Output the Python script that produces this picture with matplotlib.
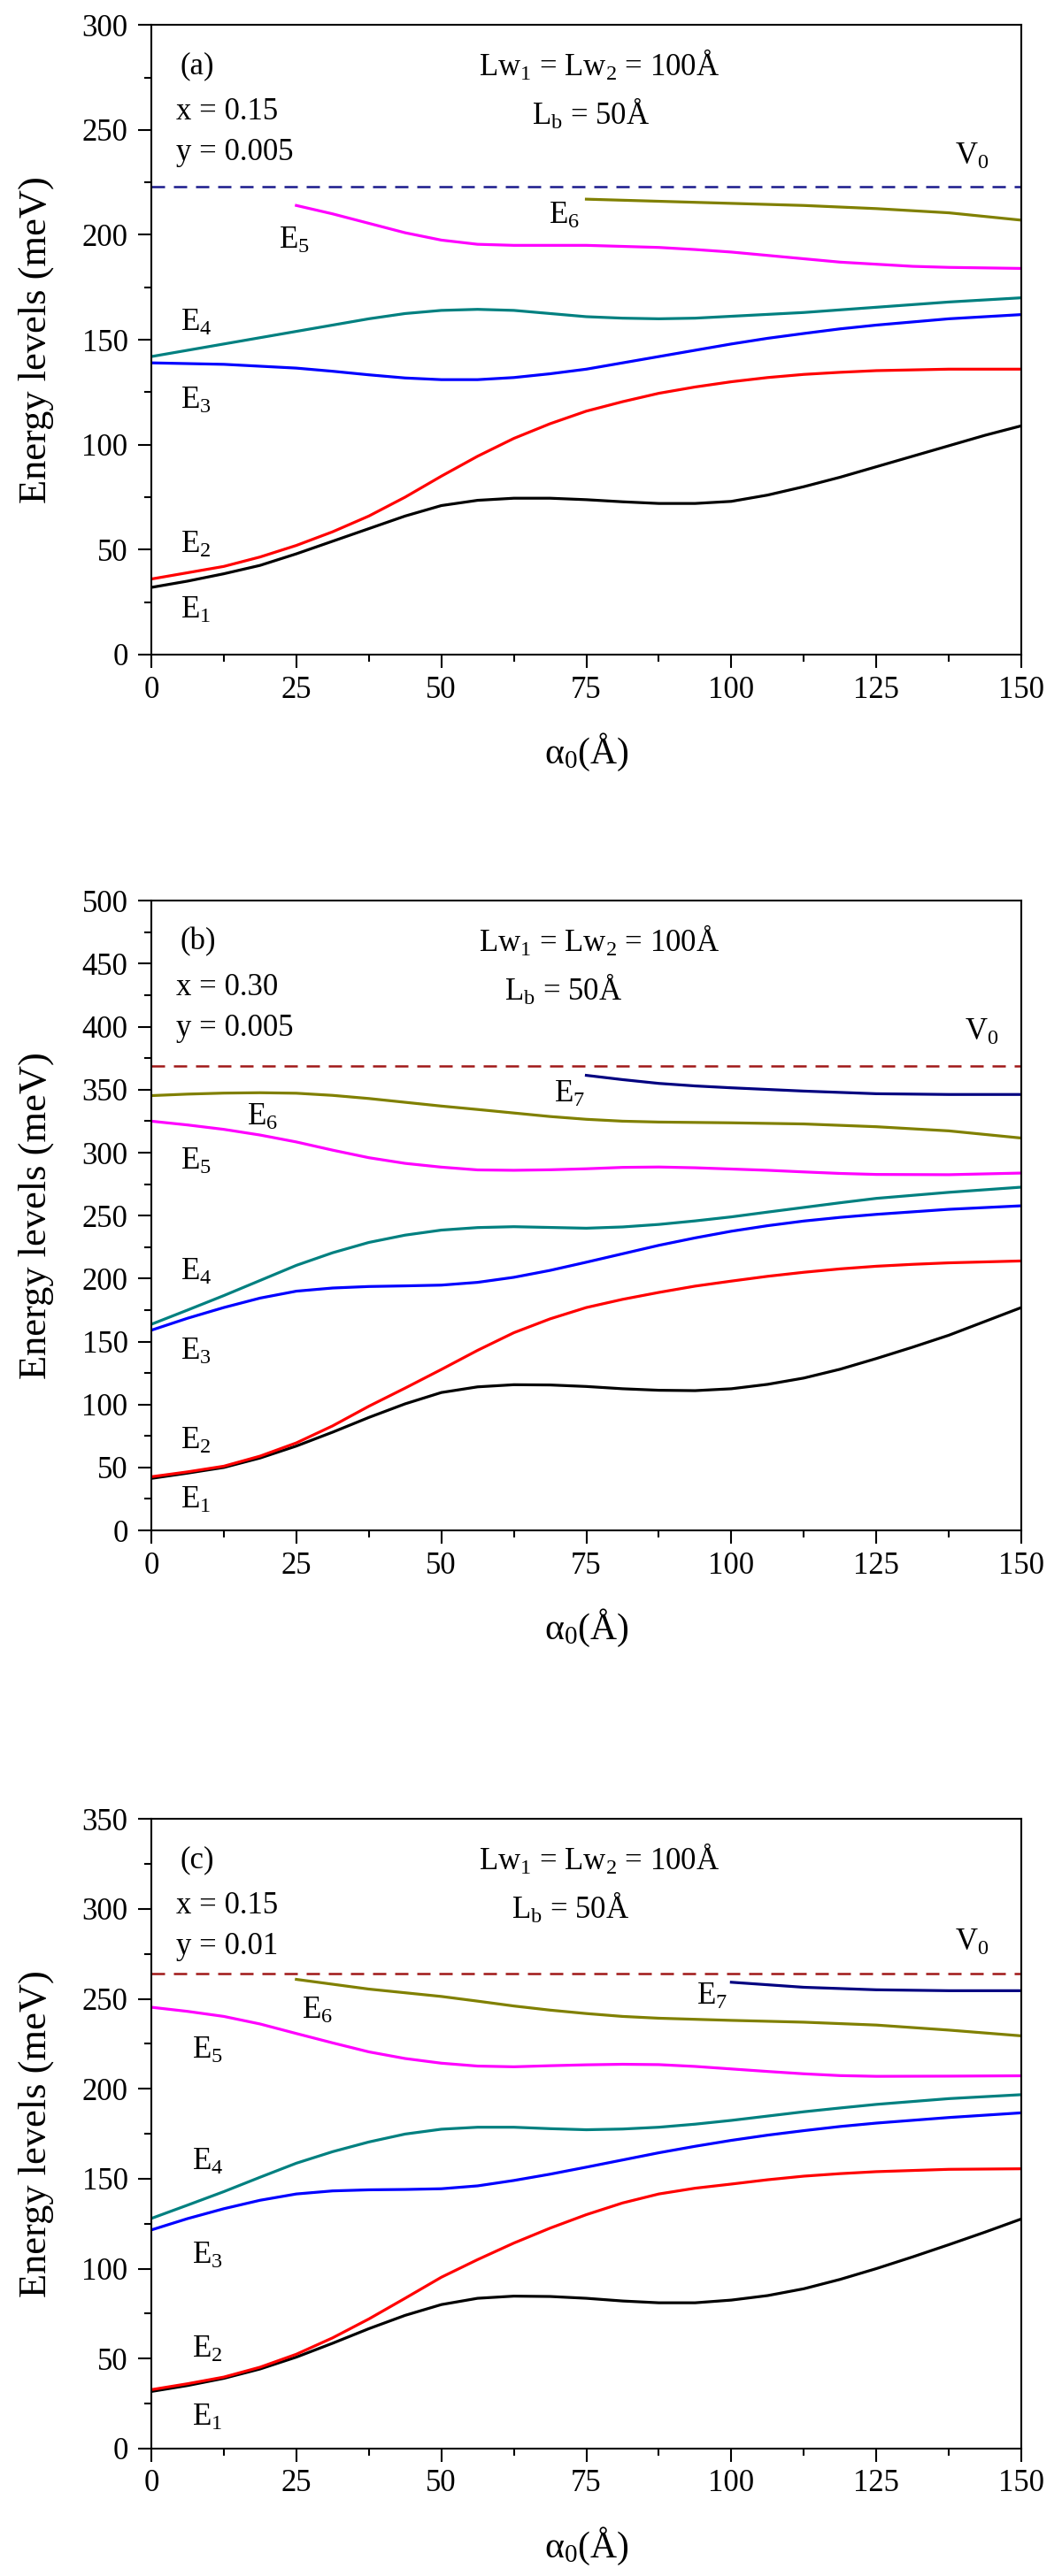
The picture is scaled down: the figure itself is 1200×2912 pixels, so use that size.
import matplotlib
matplotlib.use("Agg")
import matplotlib.pyplot as plt
from matplotlib.ticker import MultipleLocator

plt.rcParams['font.family'] = ['Liberation Serif', 'DejaVu Serif']
plt.rcParams['mathtext.fontset'] = 'custom'
plt.rcParams['mathtext.rm'] = 'Liberation Serif'
plt.rcParams['mathtext.it'] = 'Liberation Serif:italic'
plt.rcParams['mathtext.default'] = 'regular'

# alpha_0 (Angstrom) grids
g_full = [0, 6.25, 12.5, 18.75, 25, 31.25, 37.5, 43.75, 50, 56.25, 62.5, 68.75,
          75, 81.25, 87.5, 93.75, 100, 106.25, 112.5, 118.75, 125, 131.25,
          137.5, 143.75, 150]

# ---- panel (a): x = 0.15, y = 0.005 ----
a_E1 = [32, 35, 38.5, 42.5, 48, 54, 60, 66, 71, 73.5, 74.5, 74.5, 73.8, 72.8,
        72, 72, 73, 76, 80, 84.5, 89.5, 94.5, 99.5, 104.5, 109]
a_E2_x = [0, 6.25, 12.5, 18.75, 25, 31.25, 37.5, 43.75, 50, 56.25, 62.5, 68.75,
          75, 81.25, 87.5, 93.75, 100, 106.25, 112.5, 118.75, 125, 137.5, 150]
a_E2 = [36, 39, 42, 46.5, 52, 58.5, 66, 75, 85, 94.5, 103, 110, 116, 120.5,
        124.5, 127.5, 130, 132, 133.5, 134.5, 135.3, 136, 136]
a_E3_x = [0, 12.5, 25, 31.25, 37.5, 43.75, 50, 56.25, 62.5, 68.75, 75, 81.25,
          87.5, 93.75, 100, 106.25, 112.5, 118.75, 125, 137.5, 150]
a_E3 = [139, 138.3, 136.5, 135, 133.3, 131.8, 131, 131, 132, 133.8, 136, 139,
        142, 145, 148, 150.7, 153, 155.2, 157, 160, 162]
a_E4_x = [0, 12.5, 25, 31.25, 37.5, 43.75, 50, 56.25, 62.5, 68.75, 75, 81.25,
          87.5, 93.75, 100, 112.5, 125, 137.5, 150]
a_E4 = [142, 148, 154, 157, 160, 162.5, 164, 164.5, 164, 162.5, 161, 160.3,
        160, 160.3, 161.2, 163, 165.5, 168, 170]
a_E5_x = [25, 31.25, 37.5, 43.75, 50, 56.25, 62.5, 75, 87.5, 93.75, 100,
          106.25, 112.5, 118.75, 125, 131.25, 137.5, 150]
a_E5 = [214, 210, 205.5, 201, 197.5, 195.5, 195, 195, 194, 193, 191.8, 190.2,
        188.6, 187, 186, 185, 184.5, 184]
a_E6_x = [75, 87.5, 100, 112.5, 125, 137.5, 150]
a_E6 = [217, 216, 215, 214, 212.5, 210.5, 207]
a_V0 = 223

# ---- panel (b): x = 0.30, y = 0.005 ----
b_E1 = [41.3, 45.5, 50, 57.5, 67, 78, 89.7, 100.5, 109.5, 114, 115.7, 115.5,
        114.3, 112.5, 111.3, 111, 112.5, 116, 121, 128, 136.5, 145.5, 155, 166, 177]
b_E2_x = [0, 6.25, 12.5, 18.75, 25, 31.25, 37.5, 43.75, 50, 56.25, 62.5, 68.75,
          75, 81.25, 87.5, 93.75, 100, 106.25, 112.5, 118.75, 125, 131.25, 137.5, 150]
b_E2 = [42.6, 46.5, 51, 59, 69.5, 83, 98.6, 113, 127.8, 143, 157, 168, 177,
        183.5, 189, 194, 198, 201.8, 205, 207.7, 209.8, 211.3, 212.5, 214]
b_E3_x = [0, 6.25, 12.5, 18.75, 25, 31.25, 37.5, 43.75, 50, 56.25, 62.5, 68.75,
          75, 81.25, 87.5, 93.75, 100, 106.25, 112.5, 118.75, 125, 137.5, 150]
b_E3 = [159, 168.5, 177, 184.5, 190, 192.5, 193.7, 194.2, 194.8, 197, 201,
        206.5, 213, 219.7, 226.4, 232.3, 237.6, 242, 245.7, 248.6, 251, 255, 257.8]
b_E4_x = b_E3_x
b_E4 = [163.7, 175, 186.5, 198.5, 210.5, 220.5, 228.7, 234.5, 238.5, 240.5,
        241.2, 240.6, 240, 241, 243, 245.8, 249, 252.8, 256.5, 260.2, 263.7,
        268.5, 272.6]
b_E5_x = b_E3_x
b_E5 = [325, 322, 318.5, 314, 308.5, 302, 296, 291.5, 288.5, 286.3, 286, 286.4,
        287.2, 288.3, 288.6, 288, 287, 286, 284.7, 283.5, 282.7, 282.5, 283.8]
b_E6_x = [0, 6.25, 12.5, 18.75, 25, 31.25, 37.5, 43.75, 50, 56.25, 62.5, 68.75,
          75, 81.25, 87.5, 100, 112.5, 125, 137.5, 150]
b_E6 = [345.3, 346.5, 347.3, 347.6, 347.2, 345.5, 343, 340, 337, 334.3, 331.5,
        328.7, 326.5, 325, 324.3, 323.7, 322.8, 320.6, 317.3, 311.6]
b_E7_x = [75, 81.25, 87.5, 93.75, 100, 112.5, 125, 137.5, 150]
b_E7 = [361.4, 358, 355, 353, 351.5, 348.9, 346.8, 346.2, 346.2]
b_V0 = 368.6

# ---- panel (c): x = 0.15, y = 0.01 ----
c_E1 = [31.7, 35, 39, 44.2, 50.8, 58.5, 66.6, 74, 80, 83.5, 84.7, 84.5, 83.5,
        82, 81, 81, 82.5, 85, 88.8, 94, 100, 106.5, 113.3, 120.3, 127.6]
c_E2_x = b_E3_x
c_E2 = [32.7, 36, 39.7, 45.2, 52.4, 61.5, 72, 83.5, 95.2, 105, 114.2, 122.5,
        130, 136.5, 141.5, 144.7, 147, 149.4, 151.4, 152.8, 153.9, 155.2, 155.5]
c_E3_x = b_E3_x
c_E3 = [121.5, 127.8, 133.3, 138, 141.5, 143.2, 143.8, 144, 144.4, 146, 149,
        152.5, 156.4, 160.4, 164.4, 168, 171.3, 174.2, 176.7, 179, 180.9, 184, 186.6]
c_E4_x = b_E3_x
c_E4 = [127.9, 135.3, 142.8, 150.8, 158.6, 165, 170.4, 174.8, 177.5, 178.6,
        178.6, 177.8, 177.2, 177.6, 178.6, 180.3, 182.4, 184.8, 187.2, 189.3,
        191.3, 194.5, 196.7]
c_E5_x = b_E3_x
c_E5 = [245.3, 243, 240.2, 236, 230.7, 225.5, 220.5, 216.8, 214.2, 212.6, 212.2,
        212.8, 213.3, 213.6, 213.4, 212.4, 211, 209.6, 208.3, 207.3, 206.9, 207, 207.2]
c_E6_x = [25, 37.5, 50, 56.25, 62.5, 68.75, 75, 81.25, 87.5, 100, 112.5, 125,
          137.5, 150]
c_E6 = [260.8, 255.4, 251.3, 248.7, 246, 243.7, 241.8, 240.2, 239.2, 238, 237,
        235.4, 232.6, 229.4]
c_E7_x = [100, 112.5, 125, 137.5, 150]
c_E7 = [259.2, 256.4, 255, 254.5, 254.5]
c_V0 = 264

colors = {'E1': 'black', 'E2': '#ff0000', 'E3': '#0000ff', 'E4': '#008080',
          'E5': '#ff00ff', 'E6': '#808000', 'E7': '#000080'}

fig = plt.figure(figsize=(12, 29.12), dpi=100)
left, width, height = 0.1425, 0.8192, 0.2444
ax_a = fig.add_axes([left, 0.7459, width, height])
ax_b = fig.add_axes([left, 0.4059, width, height])
ax_c = fig.add_axes([left, 0.0495, width, height])

fs = 25
lw = 2.3


def style_axis(ax, ymax):
    ax.set_xlim(0, 150)
    ax.set_ylim(0, ymax)
    ax.xaxis.set_major_locator(MultipleLocator(25))
    ax.xaxis.set_minor_locator(MultipleLocator(12.5))
    ax.yaxis.set_major_locator(MultipleLocator(50))
    ax.yaxis.set_minor_locator(MultipleLocator(25))
    ax.tick_params(which='major', direction='out', length=11, width=1.5,
                   labelsize=fs, top=False, right=False)
    ax.tick_params(axis='x', which='major', pad=6)
    ax.tick_params(axis='y', which='major', pad=8)
    ax.tick_params(which='minor', direction='out', length=6, width=1.5,
                   top=False, right=False)
    for sp in ax.spines.values():
        sp.set_linewidth(1.5)
    ax.set_ylabel('Energy levels (meV)', fontsize=32)
    ax.yaxis.set_label_coords(-0.112, 0.5)
    ax.set_xlabel('α$_0$(Å)', fontsize=30, va='top')
    ax.xaxis.set_label_coords(0.5, -0.122)


def header(ax, tag, xs, ys, v0_y, v0_x, lb_x):
    ax.text(0.033, 0.935, tag, transform=ax.transAxes, fontsize=fs, va='center')
    ax.text(0.028, 0.862, xs, transform=ax.transAxes, fontsize=fs, va='center')
    ax.text(0.028, 0.797, ys, transform=ax.transAxes, fontsize=fs, va='center')
    ax.text(0.515, 0.935, 'Lw$_1$ = Lw$_2$ = 100Å', transform=ax.transAxes,
            fontsize=fs, va='center', ha='center')
    ax.text(lb_x, 0.858, 'L$_b$ = 50Å', transform=ax.transAxes,
            fontsize=fs, va='center', ha='center')
    ax.text(v0_x, v0_y, 'V$_0$', transform=ax.transAxes, fontsize=fs, va='center')


def level_labels(ax, spots):
    for k, (tx, ty) in spots.items():
        ax.text(tx, ty, 'E$_{%d}$' % k, fontsize=fs, va='center')


# panel (a)
ax = ax_a
ax.plot(g_full, a_E1, color=colors['E1'], lw=lw)
ax.plot(a_E2_x, a_E2, color=colors['E2'], lw=lw)
ax.plot(a_E3_x, a_E3, color=colors['E3'], lw=lw)
ax.plot(a_E4_x, a_E4, color=colors['E4'], lw=lw)
ax.plot(a_E5_x, a_E5, color=colors['E5'], lw=lw)
ax.plot(a_E6_x, a_E6, color=colors['E6'], lw=lw)
ax.axhline(a_V0, color='#1a1a8c', lw=1.8, dashes=(6, 4))
style_axis(ax, 300)
header(ax, '(a)', 'x = 0.15', 'y = 0.005', 0.79, 0.924, 0.505)
level_labels(ax, {1: (5, 21), 2: (5, 52), 3: (5, 121), 4: (5, 158),
                  5: (22, 197), 6: (68.5, 209)})

# panel (b)
ax = ax_b
ax.plot(g_full, b_E1, color=colors['E1'], lw=lw)
ax.plot(b_E2_x, b_E2, color=colors['E2'], lw=lw)
ax.plot(b_E3_x, b_E3, color=colors['E3'], lw=lw)
ax.plot(b_E4_x, b_E4, color=colors['E4'], lw=lw)
ax.plot(b_E5_x, b_E5, color=colors['E5'], lw=lw)
ax.plot(b_E6_x, b_E6, color=colors['E6'], lw=lw)
ax.plot(b_E7_x, b_E7, color=colors['E7'], lw=lw)
ax.axhline(b_V0, color='#a01818', lw=1.8, dashes=(6, 4))
style_axis(ax, 500)
header(ax, '(b)', 'x = 0.30', 'y = 0.005', 0.79, 0.935, 0.474)
level_labels(ax, {1: (5, 24), 2: (5, 71), 3: (5, 142), 4: (5, 205),
                  5: (5, 293), 6: (16.5, 328), 7: (69.5, 346)})

# panel (c)
ax = ax_c
ax.plot(g_full, c_E1, color=colors['E1'], lw=lw)
ax.plot(c_E2_x, c_E2, color=colors['E2'], lw=lw)
ax.plot(c_E3_x, c_E3, color=colors['E3'], lw=lw)
ax.plot(c_E4_x, c_E4, color=colors['E4'], lw=lw)
ax.plot(c_E5_x, c_E5, color=colors['E5'], lw=lw)
ax.plot(c_E6_x, c_E6, color=colors['E6'], lw=lw)
ax.plot(c_E7_x, c_E7, color=colors['E7'], lw=lw)
ax.axhline(c_V0, color='#a01818', lw=1.8, dashes=(6, 4))
style_axis(ax, 350)
header(ax, '(c)', 'x = 0.15', 'y = 0.01', 0.803, 0.924, 0.482)
level_labels(ax, {1: (7, 17), 2: (7, 55), 3: (7, 107), 4: (7, 159),
                  5: (7, 221), 6: (26, 243), 7: (94, 251)})

fig.savefig('out.png', dpi=100)
